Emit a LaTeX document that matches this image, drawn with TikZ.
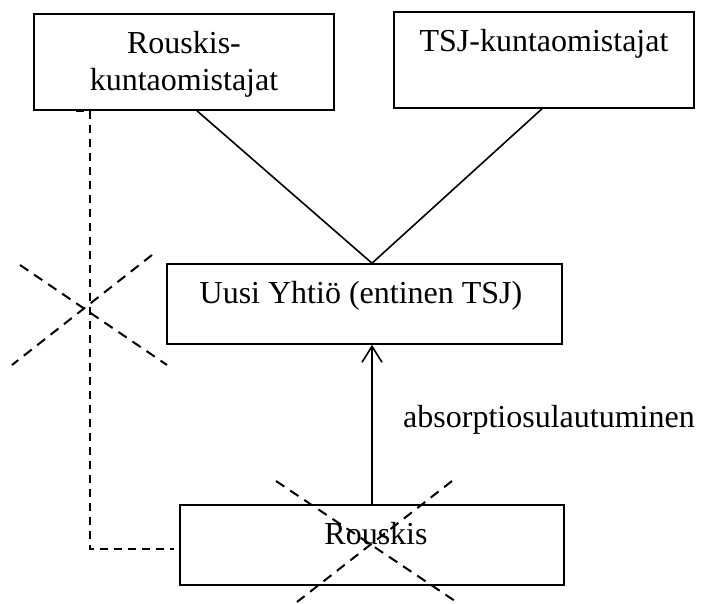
\documentclass[tikz,border=0pt]{standalone}
\usepackage{fontspec}
\setmainfont{Liberation Serif}
\usetikzlibrary{arrows.meta}
\begin{document}
\begin{tikzpicture}[x=1pt,y=-1pt,
  box/.style={draw,line width=1.6pt,rectangle,inner sep=0pt},
  txt/.style={anchor=base,inner sep=0pt,font=\fontsize{32}{37}\selectfont},
  conn/.style={line width=1.6pt},
  dline/.style={line width=1.8pt,dash pattern=on 8pt off 6pt},
  xline/.style={line width=2pt,dash pattern=on 10pt off 7pt}]
\useasboundingbox (0,0) rectangle (701,604);
\node[box,minimum width=300pt,minimum height=96pt] (b1) at (184,62) {};
\node[box,minimum width=300pt,minimum height=96pt] (b2) at (544,60) {};
\node[box,minimum width=395pt,minimum height=80pt] (b3) at (364.5,304) {};
\node[box,minimum width=384pt,minimum height=80pt] (b4) at (372,545) {};
\node[txt] (t1a) at (184,54) {Rouskis-};
\node[txt] (t1b) at (184,91) {kuntaomistajat};
\node[txt] (t2) at (544,52) {TSJ-kuntaomistajat};
\node[txt] (t3) at (361,303) {Uusi Yhtiö (entinen TSJ)};
\node[txt] (t4) at (376,544) {Rouskis};
\node[txt,anchor=base west] (lab) at (403,427) {absorptiosulautuminen};
\draw[conn] ([xshift=13pt]b1.south) -- ([xshift=7.5pt]b3.north);
\draw[conn] ([xshift=-2pt]b2.south) -- ([xshift=7.5pt]b3.north);
\draw[conn,-{Straight Barb[length=16pt,width=20pt]}] (b4.north) -- (b4.north |- b3.south);
\draw[dline] ([xshift=-108pt]b1.south) -- ([xshift=-94pt]b1.south) |- ([xshift=-5pt,yshift=-4pt]b4.west);
\draw[xline] (20,265) -- (167,365);
\draw[xline] (152,255) -- (12,365);
\draw[xline] (276,481) -- (455,601);
\draw[xline] (452,481) -- (297,602);
\end{tikzpicture}
\end{document}
